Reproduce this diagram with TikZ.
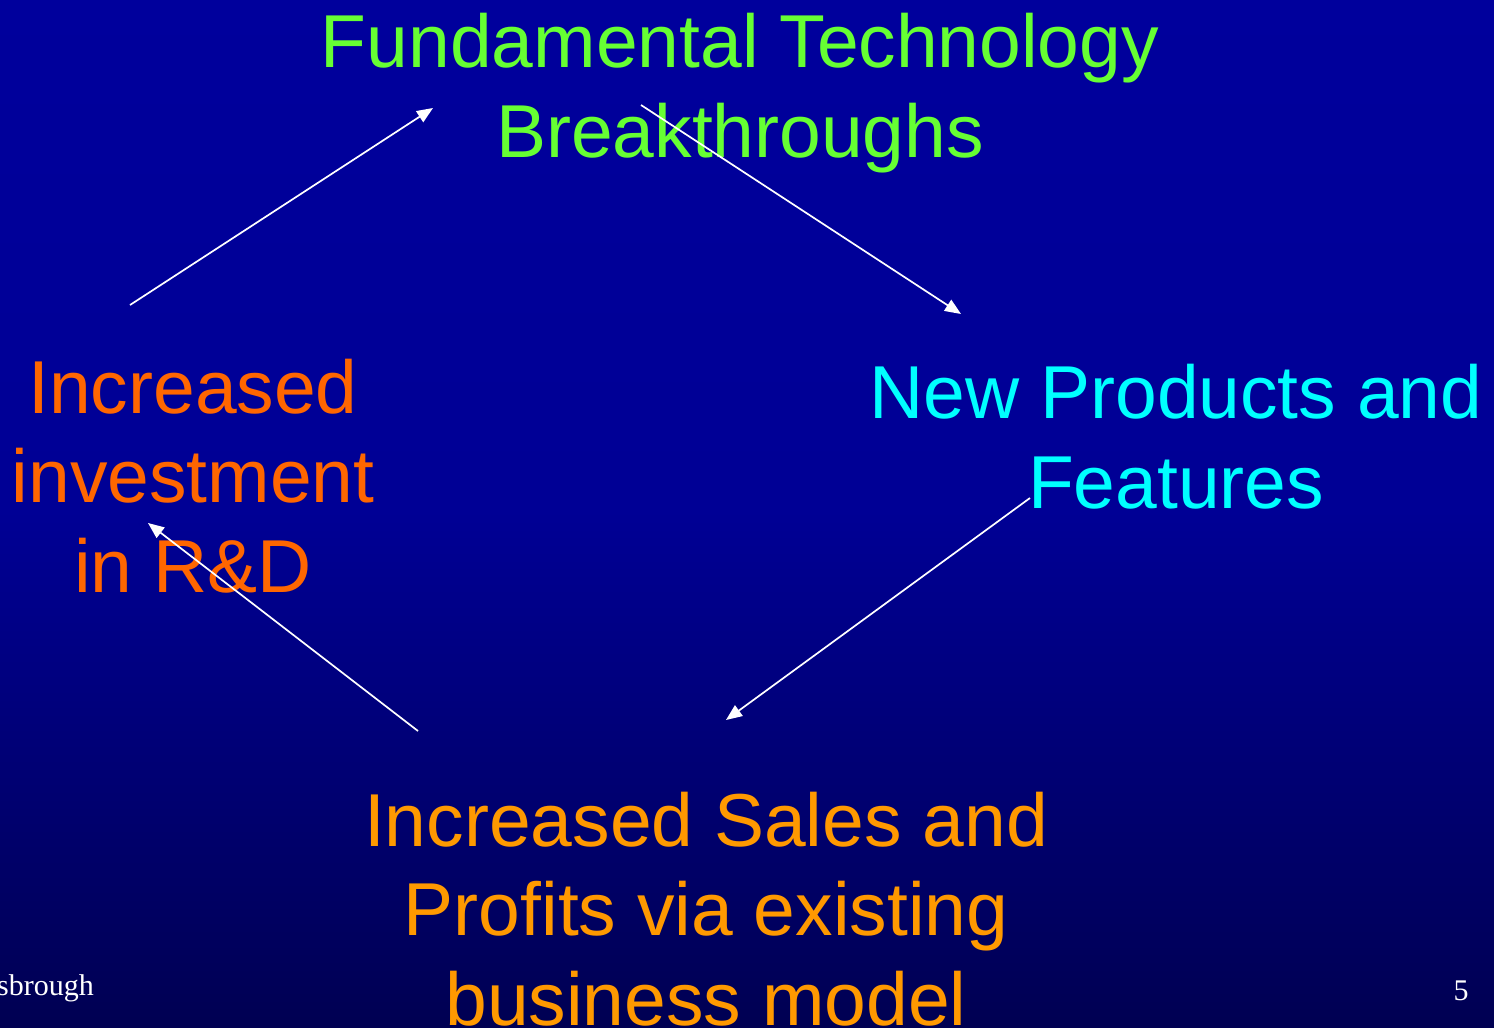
\documentclass[tikz,border=0pt]{standalone}
\usepackage{fontspec}
\setmainfont{Liberation Sans}
\newfontfamily\seriffont{Liberation Serif}
\usetikzlibrary{arrows.meta}
\definecolor{tgreen}{HTML}{66FF33}
\definecolor{tred}{HTML}{FF6600}
\definecolor{tcyan}{HTML}{00FFFF}
\definecolor{torange}{HTML}{FF9900}
\definecolor{bgtop}{HTML}{00009C}
\definecolor{bgbot}{HTML}{000052}
\begin{document}
\begin{tikzpicture}[x=1pt,y=-1pt,
  bigtext/.style={font=\fontsize{75}{89.5}\selectfont, align=center, inner sep=0pt, anchor=base},
  foot/.style={font=\seriffont\fontsize{30}{34}\selectfont, text=white, inner sep=0pt, anchor=base west},
  flow/.style={draw=white, line width=1.7pt, -{Triangle[length=16pt,width=13pt]}}]
\useasboundingbox (0,0) rectangle (1494,1028);
\clip (0,0) rectangle (1494,1028);
\shade[top color=bgtop, bottom color=bgbot, middle color=bgtop!90!bgbot] (0,0) rectangle (1494,1028);
\node[bigtext, text=tgreen] (tech) at (740,157) {Fundamental Technology\\Breakthroughs};
\node[bigtext, text=tred] (rd) at (193,592) {Increased\\investment\\in R\&D};
\node[bigtext, text=tcyan] (prod) at (1176,508) {New Products and\\Features};
\node[bigtext, text=torange] (sales) at (706,1025) {Increased Sales and\\Profits via existing\\business model};
\node[foot] (author) at (-3,995) {sbrough};
\node[foot, anchor=base] (page) at (1461,1000) {5};
\coordinate (a1s) at (130,305); \coordinate (a1e) at (433,108);
\coordinate (a2s) at (641,105); \coordinate (a2e) at (961,314);
\coordinate (a3s) at (1030,498); \coordinate (a3e) at (726,720);
\coordinate (a4s) at (418,731); \coordinate (a4e) at (148,523);
\draw[flow] (a1s) -- (a1e);
\draw[flow] (a2s) -- (a2e);
\draw[flow] (a3s) -- (a3e);
\draw[flow] (a4s) -- (a4e);
\end{tikzpicture}
\end{document}
